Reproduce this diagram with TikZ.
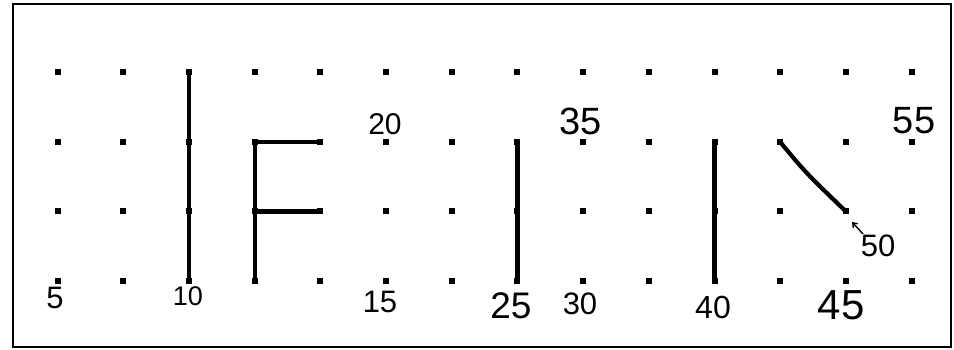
\documentclass[tikz,border=0pt]{standalone}
\usepackage{fontspec}
\setmainfont{Liberation Sans}
\usetikzlibrary{arrows.meta}
\begin{document}
\begin{tikzpicture}[x=1pt,y=-1pt,
  dot/.style={fill=black,inner sep=0pt,minimum size=6pt,rectangle},
  stroke/.style={line width=4.2pt,line cap=round,line join=round},
  lab/.style={inner sep=0pt,font=\fontsize{#1}{#1}\selectfont},
  lab/.default=28]
\useasboundingbox (0,0) rectangle (954,350);
\draw[line width=2.8pt] (13,4) rectangle (951,347);
\foreach \i in {0,...,13}{
  \foreach \j/\yy in {0/72,1/142,2/211.5,3/281}{
    \node[dot] (d-\i-\j) at ({57.5+65.7*\i},\yy) {};
  }
}
% I
\draw[stroke] (d-2-0.center) -- (d-2-3.center);
% F
\draw[stroke] (d-4-1.center) -- (d-3-1.center) -- (d-3-3.center);
\draw[stroke] (d-3-2.center) -- (d-4-2.center);
% lines
\draw[stroke] (d-7-1.center) -- (d-7-3.center);
\draw[stroke] (d-10-1.center) -- (d-10-3.center);
\draw[stroke] (d-11-1.center) .. controls (805,172) .. (d-12-2.center);
% labels
\node[lab=31] (l5) at (55,298) {5};
\node[lab=27] (l10) at (188,296) {10};
\node[lab=31] (l15) at (380,302) {15};
\node[lab=30] (l20) at (385,124) {20};
\node[lab=37] (l25) at (511,306) {25};
\node[lab=31] (l30) at (580,304) {30};
\node[lab=38] (l35) at (581,121) {35};
\node[lab=32] (l40) at (713,307) {40};
\node[lab=42] (l45) at (841,305) {45};
\node[lab=31] (l50) at (878,246) {50};
\node[lab=38] (l55) at (914,121) {55};
\coordinate (a50s) at (863,234);
\coordinate (a50e) at (852,222);
\draw[line width=1.4pt,-{Straight Barb[length=4pt,width=6pt]}] (a50s) -- (a50e);
\end{tikzpicture}
\end{document}
